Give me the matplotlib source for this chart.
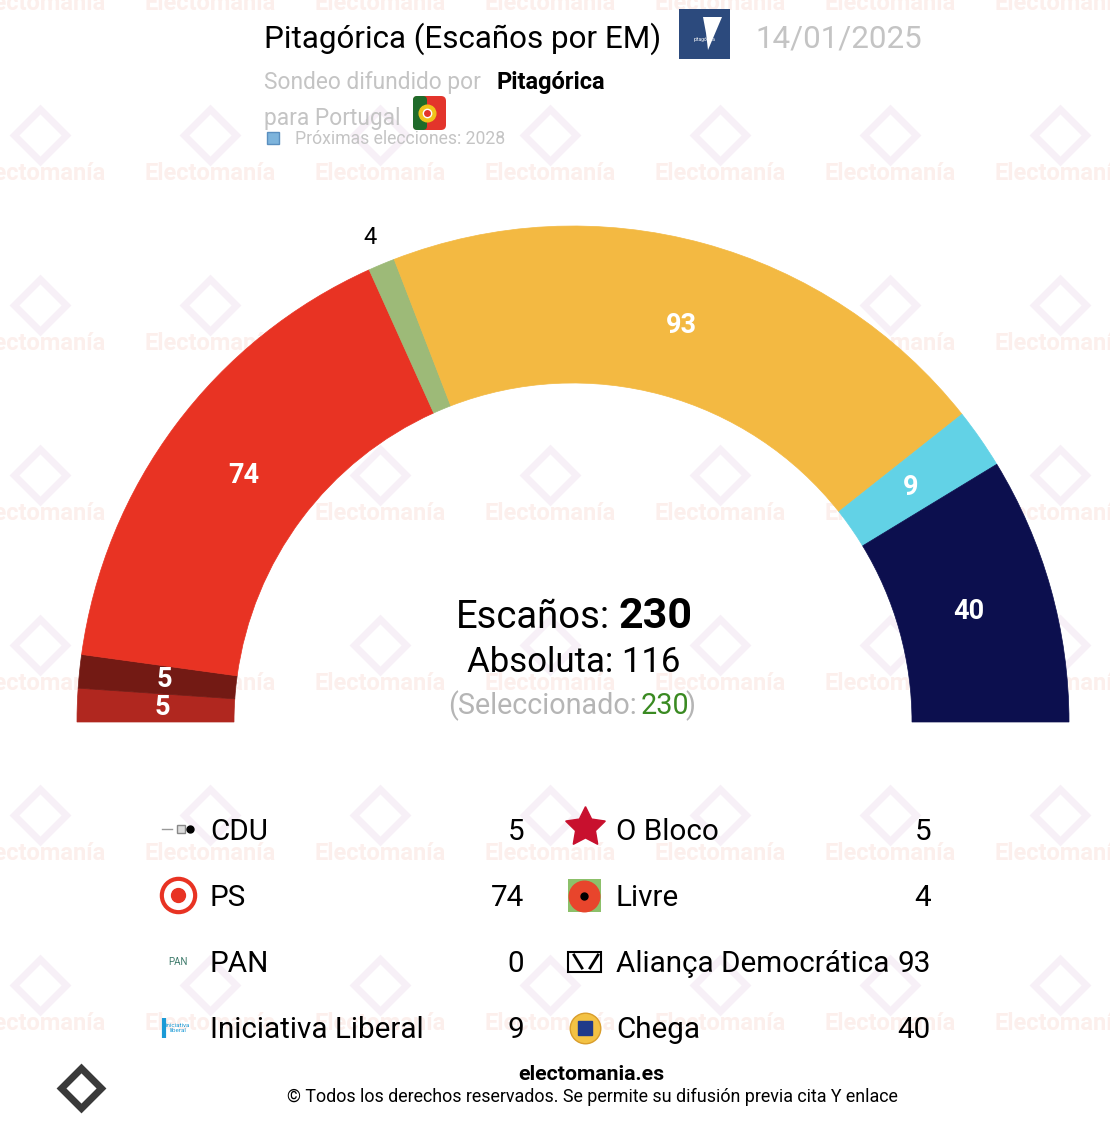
import matplotlib
matplotlib.use("Agg")
import matplotlib.pyplot as plt
from matplotlib.patches import Wedge, Rectangle, FancyBboxPatch, Polygon
import numpy as np

plt.rcParams['font.family'] = ['Roboto', 'DejaVu Sans']

# --- data ---
parties = ["CDU", "O Bloco", "PS", "Livre", "PAN", "Aliança Democrática", "Iniciativa Liberal", "Chega"]
seats = [5, 5, 74, 4, 0, 93, 9, 40]
colors = ["#b0271f", "#731a14", "#e83323", "#9dba78", "#3d8a74", "#f3b942", "#62d2e6", "#0c0f4e"]
# legend layout: left column / right column
legend_left = ["CDU", "PS", "PAN", "Iniciativa Liberal"]
legend_right = ["O Bloco", "Livre", "Aliança Democrática", "Chega"]
total = 230
majority = 116

W, H = 1110, 1124
fig = plt.figure(figsize=(W / 100, H / 100), dpi=100)
ax = fig.add_axes([0, 0, 1, 1])
ax.set_xlim(0, W)
ax.set_ylim(0, H)
ax.axis("off")


def Y(y):
    # image-style y (from top) to axis y
    return H - y


# watermark
for j in range(7):
    for i in range(7):
        cx = 40 + 170 * i
        cy = 3 + 170 * j
        ax.text(cx, Y(cy), "Electomanía", ha="center", va="center", fontsize=17,
                fontweight="bold", color="#fcefec", zorder=0)
        ax.plot(cx, Y(cy - 38), marker="D", ms=26, mfc="none", mec="#f7f0f7",
                mew=5, zorder=0)

# --- hemicycle ---
cx, cy = 573, Y(722)
R_out, R_in = 496, 339
cum = 0
for name, s, col in zip(parties, seats, colors):
    if s == 0:
        continue
    t2 = 180 - cum / total * 180
    t1 = 180 - (cum + s) / total * 180
    ax.add_patch(Wedge((cx, cy), R_out, t1, t2, width=R_out - R_in,
                       facecolor=col, edgecolor=col, lw=0.5, zorder=2))
    mid = np.radians((t1 + t2) / 2)
    if s >= 5:
        rm = 411
        ax.text(cx + rm * np.cos(mid), cy + rm * np.sin(mid), str(s),
                ha="center", va="center", color="white", fontsize=19.5,
                fontweight="bold", zorder=3)
    else:
        ro = R_out + 29
        ax.text(cx + ro * np.cos(mid), cy + ro * np.sin(mid), str(s),
                ha="center", va="center", color="black", fontsize=17, zorder=3)
    cum += s

# center text
ax.text(610, Y(617), "Escaños:", ha="right", va="center", fontsize=27.5, color="black")
ax.text(618, Y(617), str(total), ha="left", va="center", fontsize=31,
        fontweight="bold", color="black")
ax.text(574, Y(662), f"Absoluta: {majority}", ha="center", va="center",
        fontsize=25, color="black")
ax.text(637, Y(706), "(Seleccionado:", ha="right", va="center", fontsize=20.7, color="#b5b5b5")
ax.text(641, Y(706), str(total), ha="left", va="center", fontsize=20.7, color="#3a8a22")
ax.text(685, Y(706), ")", ha="left", va="center", fontsize=20.7, color="#b5b5b5")

# --- header ---
ax.text(264, Y(39), "Pitagórica (Escaños por EM)", ha="left", va="center",
        fontsize=22.6, color="black")
ax.add_patch(Rectangle((679, Y(59)), 51, 50, facecolor="#2c4a7d", edgecolor="none"))
ax.add_patch(Polygon([(703, Y(17)), (722, Y(17)), (708, Y(50)), (706, Y(33))],
                     closed=True, facecolor="white", edgecolor="none"))
ax.text(704, Y(40), "pitagórica", ha="center", va="center", fontsize=3.5, color="white")
ax.text(755, Y(39), "14/01/2025", ha="left", va="center", fontsize=22.6, color="#c4c4c4")

ax.text(264, Y(83), "Sondeo difundido por", ha="left", va="center", fontsize=16.4, color="#c4c4c4")
ax.text(496, Y(83), "Pitagórica", ha="left", va="center", fontsize=17,
        fontweight="bold", color="black")
ax.text(264, Y(118), "para Portugal", ha="left", va="center", fontsize=16.4, color="#c4c4c4")
ax.add_patch(FancyBboxPatch((413, Y(130)), 33, 34, boxstyle="round,pad=0,rounding_size=5",
                            facecolor="#e3342b", edgecolor="none"))
ax.add_patch(FancyBboxPatch((413, Y(130)), 14, 34, boxstyle="round,pad=0,rounding_size=4",
                            facecolor="#1f6b2a", edgecolor="none"))
ax.plot(427, Y(113), marker="o", ms=12, mfc="#f0c419", mec="#f0c419")
ax.plot(427, Y(113), marker="o", ms=6, mfc="#e3342b", mec="white", mew=1)
ax.plot(273, Y(138), marker="s", ms=9, mfc="#7db4dc", mec="#5a8fbf")
ax.text(295, Y(139), "Próximas elecciones: 2028", ha="left", va="center",
        fontsize=12.7, color="#c4c4c4")

# --- legend ---
seat_of = dict(zip(parties, seats))
rows_y = [832, 898, 964, 1030]
for k, name in enumerate(legend_left):
    y = Y(rows_y[k])
    ax.text(210, y, name, ha="left", va="center", fontsize=21.3, color="black")
    ax.text(524, y, str(seat_of[name]), ha="right", va="center", fontsize=21.3, color="black")
for k, name in enumerate(legend_right):
    y = Y(rows_y[k])
    ax.text(616, y, name, ha="left", va="center", fontsize=21.3, color="black")
    ax.text(931, y, str(seat_of[name]), ha="right", va="center", fontsize=21.3, color="black")

# simple icons
ax.plot([162, 172], [Y(829), Y(829)], color="#999999", lw=1)
ax.plot(181, Y(829), marker="s", ms=6, mfc="#dddddd", mec="#888888")
ax.plot(190, Y(829), marker="o", ms=5, mfc="black", mec="black")
ax.plot(178, Y(895), marker="o", ms=24, mfc="white", mec="#e83323", mew=3)
ax.plot(178, Y(895), marker="o", ms=10, mfc="#e83323", mec="#e83323")
ax.text(178, Y(962), "PAN", ha="center", va="center", fontsize=7, color="#3d7a6a")
ax.text(178, Y(1028), "iniciativa\nliberal", ha="center", va="center", fontsize=4.5,
        color="#1b9ad6", linespacing=0.9)
ax.plot(164, Y(1028), marker="|", ms=14, mec="#1b9ad6", mew=3)
ax.plot(585, Y(827), marker=(5, 1, 0), ms=30, mfc="#c8102e", mec="#c8102e")
ax.add_patch(Rectangle((568, Y(912)), 33, 33, facecolor="#8cc06a", edgecolor="none"))
ax.plot(584, Y(896), marker="o", ms=22, mfc="#e8452c", mec="#e8452c")
ax.plot(584, Y(896), marker="o", ms=5, mfc="black", mec="black")
ax.add_patch(Rectangle((568, Y(972)), 33, 20, facecolor="white", edgecolor="black", lw=1.5))
ax.plot([574, 582], [Y(955), Y(968)], color="black", lw=2)
ax.plot([590, 598], [Y(968), Y(955)], color="black", lw=2)
ax.plot(585, Y(1028), marker="o", ms=22, mfc="#f3c244", mec="#d99d2b", mew=1)
ax.plot(585, Y(1028), marker="s", ms=10, mfc="#1f3a8a", mec="#1f3a8a")

# --- footer ---
ax.text(591, Y(1075), "electomania.es", ha="center", va="center", fontsize=15.3,
        fontweight="bold", color="black")
ax.text(592, Y(1097), "© Todos los derechos reservados. Se permite su difusión previa cita Y enlace",
        ha="center", va="center", fontsize=12.85, color="black")
ax.plot(81, Y(1088), marker="D", ms=20, mfc="none", mec="#3a3a3a", mew=5)

fig.savefig("out.png", dpi=100)
